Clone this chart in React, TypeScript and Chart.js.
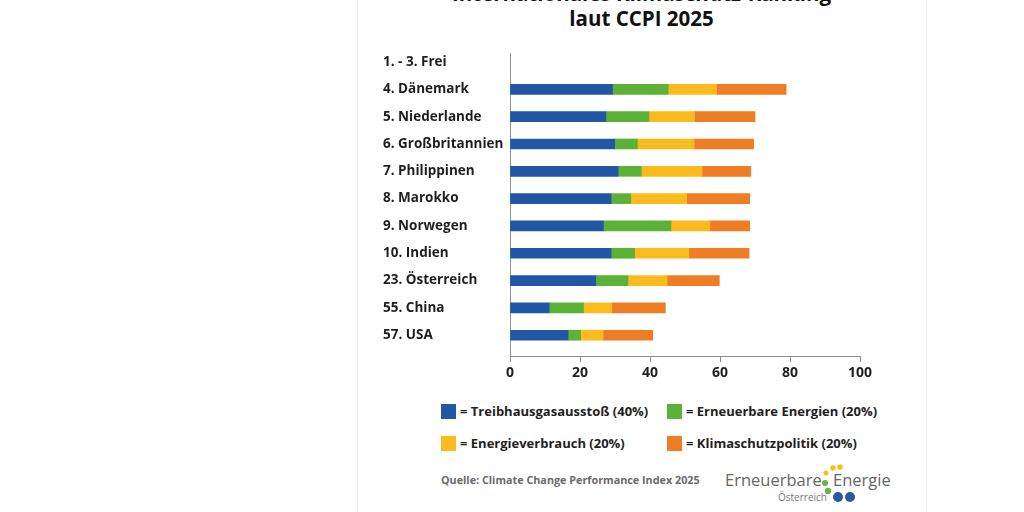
import React, { useEffect, useRef } from 'react';
import { Chart, registerables } from 'chart.js';

Chart.register(...registerables);

const categories = [
  '1. - 3. Frei',
  '4. Dänemark',
  '5. Niederlande',
  '6. Großbritannien',
  '7. Philippinen',
  '8. Marokko',
  '9. Norwegen',
  '10. Indien',
  '23. Österreich',
  '55. China',
  '57. USA',
];
const treibhausgas = [null, 29.3, 27.4, 29.9, 30.9, 28.9, 26.7, 28.9, 24.5, 11.2, 16.6];
const erneuerbare = [null, 15.9, 12.3, 6.5, 6.6, 5.6, 19.3, 6.7, 9.2, 9.8, 3.6];
const energieverbrauch = [null, 13.8, 13.0, 16.2, 17.4, 16.0, 11.1, 15.5, 11.2, 8.1, 6.4];
const klimaschutz = [null, 19.9, 17.3, 17.0, 13.9, 18.0, 11.4, 17.2, 14.9, 15.3, 14.2];
const seriesNames = [
  'Treibhausgasausstoß (40%)',
  'Erneuerbare Energien (20%)',
  'Energieverbrauch (20%)',
  'Klimaschutzpolitik (20%)',
];
const seriesColors = ['#2257a7', '#5cb236', '#fbbb1f', '#ee7d23'];
const xTicks = [0, 20, 40, 60, 80, 100];

const FONT = "'Open Sans', sans-serif";
const AXIS = '#8f8f8f';

export default function App() {
  const ref = useRef<HTMLCanvasElement | null>(null);

  useEffect(() => {
    document.body.style.margin = '0';
    const values = [treibhausgas, erneuerbare, energieverbrauch, klimaschutz];
    const chart = new Chart(ref.current as HTMLCanvasElement, {
      type: 'bar',
      data: {
        datasets: values.map((arr, k) => ({
          label: seriesNames[k],
          data: arr.map((v, i) => ({ x: v, y: i })),
          backgroundColor: seriesColors[k],
          borderWidth: 0,
          barThickness: 10,
        })) as any,
      },
      options: {
        indexAxis: 'y',
        animation: false,
        responsive: false,
        layout: { padding: { left: 383, right: 164, top: 53, bottom: 0 } },
        plugins: { legend: { display: false }, tooltip: { enabled: false }, title: { display: false } },
        scales: {
          x: {
            type: 'linear',
            min: xTicks[0],
            max: xTicks[xTicks.length - 1],
            stacked: true,
            afterBuildTicks: (s: any) => {
              s.ticks = xTicks.map((v) => ({ value: v }));
            },
            afterFit: (s: any) => {
              s.height = 44;
            },
            ticks: {
              font: { family: FONT, weight: 'bold', size: 14 },
              color: '#1e1e1e',
              padding: 3,
            },
            grid: { drawOnChartArea: false, drawTicks: true, tickLength: 6, color: AXIS },
            border: { display: true, color: AXIS, width: 1 },
          },
          y: {
            type: 'linear',
            reverse: true,
            offset: false,
            min: -0.33,
            max: 10.76,
            stacked: true,
            afterBuildTicks: (s: any) => {
              s.ticks = categories.map((_, i) => ({ value: i }));
            },
            afterFit: (s: any) => {
              s.width = 127;
            },
            ticks: {
              autoSkip: false,
              crossAlign: 'far',
              callback: (v: any) => categories[Math.round(Number(v))] ?? '',
              font: { family: FONT, weight: 'bold', size: 13.5 },
              color: '#1e1e1e',
            },
            grid: { display: false, offset: false },
            border: { display: true, color: AXIS, width: 1 },
          },
        },
      } as any,
    });
    return () => chart.destroy();
  }, []);

  const legendPos = [
    { left: 441, top: 402 },
    { left: 667, top: 402 },
    { left: 441, top: 434 },
    { left: 667, top: 434 },
  ];

  return (
    <div style={{ position: 'fixed', left: 0, top: 0, width: 1024, height: 512, overflow: 'hidden', background: '#fff', fontFamily: FONT }}>
      <div style={{ position: 'absolute', left: 357, top: 0, width: 568, height: 512, borderLeft: '1px solid #f1f1f1', borderRight: '1px solid #f1f1f1' }} />
      <div style={{ position: 'absolute', left: 358, width: 567, top: -19, textAlign: 'center', fontWeight: 700, fontSize: 20.5, lineHeight: '25px', color: '#111' }}>
        <div>Internationales Klimaschutz-Ranking</div>
        <div>laut CCPI 2025</div>
      </div>
      <canvas ref={ref} width={1024} height={400} style={{ position: 'absolute', left: 0, top: 0, width: 1024, height: 400 }} />
      {seriesNames.map((n, k) => (
        <div key={n} style={{ position: 'absolute', left: legendPos[k].left, top: legendPos[k].top, display: 'flex', alignItems: 'center', whiteSpace: 'nowrap' }}>
          <div style={{ width: 15, height: 15, background: seriesColors[k], marginRight: 4 }} />
          <span style={{ fontWeight: 700, fontSize: 13, color: '#1e1e1e' }}>= {n}</span>
        </div>
      ))}
      <div style={{ position: 'absolute', left: 441, top: 472, fontWeight: 700, fontSize: 10.8, color: '#6a6a6a', whiteSpace: 'nowrap' }}>
        Quelle: Climate Change Performance Index 2025
      </div>
      <div style={{ position: 'absolute', left: 725, top: 469, fontSize: 16.5, color: '#666', whiteSpace: 'nowrap', lineHeight: '22px' }}>Erneuerbare</div>
      <div style={{ position: 'absolute', left: 833, top: 469, fontSize: 16.5, color: '#666', whiteSpace: 'nowrap', lineHeight: '22px' }}>Energie</div>
      <div style={{ position: 'absolute', left: 778, top: 490, fontSize: 10, color: '#777', whiteSpace: 'nowrap', lineHeight: '14px' }}>Österreich</div>
      <svg style={{ position: 'absolute', left: 818, top: 462 }} width={40} height={44}>
        <circle cx={8} cy={11} r={2.5} fill="#f5c21b" />
        <circle cx={15} cy={6} r={2.8} fill="#f5c21b" />
        <circle cx={22} cy={5} r={2.8} fill="#f5c21b" />
        <circle cx={7} cy={21} r={3} fill="#6cb33f" />
        <circle cx={10} cy={29} r={3.2} fill="#6cb33f" />
        <circle cx={20} cy={35} r={5} fill="#2a58a8" />
        <circle cx={32} cy={35} r={5} fill="#2a58a8" />
      </svg>
    </div>
  );
}
